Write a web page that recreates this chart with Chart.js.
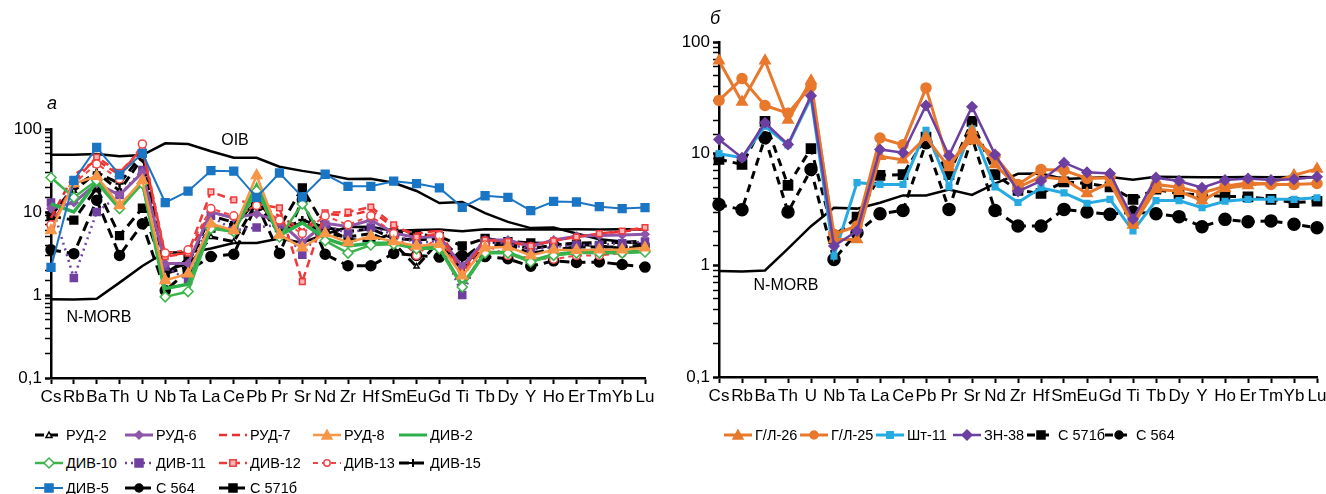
<!DOCTYPE html>
<html><head><meta charset="utf-8">
<script src="https://cdn.jsdelivr.net/npm/chart.js@4.4.1/dist/chart.umd.min.js"></script>
<style>
body{margin:0;background:#fff;width:1326px;height:494px;position:relative;overflow:hidden;font-family:"Liberation Sans",Arial,sans-serif;color:#000}
.wrap{position:absolute;top:0}
.note{position:absolute;font-size:16px;white-space:nowrap;transform:translate(-50%,-50%)}
.it{position:absolute;display:flex;align-items:center;white-space:nowrap;font-size:14.5px;transform:translateY(-50%)}
.it svg{margin-right:3px}
</style></head><body>
<div class="wrap" style="left:0;width:660px;height:410px"><canvas id="cA" width="660" height="410"></canvas></div>
<div class="wrap" style="left:660px;width:666px;height:410px"><canvas id="cB" width="666" height="410"></canvas></div>
<div class="note" style="left:52px;top:103px;font-style:italic;font-size:18px">а</div>
<div class="note" style="left:715px;top:18px;font-style:italic;font-size:18px">б</div>
<div class="note" style="left:235px;top:140px">OIB</div>
<div class="note" style="left:99px;top:317px">N-MORB</div>
<div class="note" style="left:786px;top:285px">N-MORB</div>
<div id="legA"></div><div id="legB"></div>
<script>
// ---- data ----
const elements = ['Cs','Rb','Ba','Th','U','Nb','Ta','La','Ce','Pb','Pr','Sr','Nd','Zr','Hf','Sm','Eu','Gd','Ti','Tb','Dy','Y','Ho','Er','Tm','Yb','Lu'];
const yTickValues = [0.1, 1, 10, 100];
const yTickLabels = ['0,1', '1', '10', '100'];

const oib   = [49,48.8,50,47,48.6,67.3,65.9,53.9,45,45,35.1,31.3,28.4,25,25.2,22.5,17.9,12.8,13.2,9.7,7.6,6.4,6.5,5.5,4.7,4.4,4.05];
const nmorb = [0.89,0.88,0.9,1.41,2.24,3.27,3.22,3.64,4.23,4.23,4.78,4.27,5.39,6.6,6.63,5.92,6.07,6.17,5.85,6.2,6.17,6.15,6.16,6.19,6.16,6.19,6.15];

const rud2  = [10,18,30,18,45,1.8,2.2,5.0,4.4,13,5.5,7.5,5.5,5.0,5.5,4.2,2.2,4.5,2.0,4.0,4.0,3.2,3.5,3.8,3.8,3.8,4.0];
const rud6  = [11,13,22,16,30,2.4,2.4,10,8.5,9.5,7.6,4.3,7.3,6.7,8.0,5.6,4.9,5.1,2.2,4.6,4.6,3.85,4.6,5.1,5.2,5.3,5.4];
const rud7  = [8.5,28,42,28,60,3.0,3.2,10,8.5,12,9,6,9.5,9,10.5,6.5,5.5,6.0,2.0,4.5,4.5,4.0,4.5,5.0,5.5,5.8,6.3];
const rud8  = [6,22,27,12,24,1.5,1.8,7.2,6,27.5,5.3,3.7,5.5,4.3,5.1,4.4,3.9,4.1,1.7,3.7,3.8,3.0,3.5,3.45,3.5,3.5,3.7];
const div2  = [12.5,10,23,11,23,1.2,1.35,6.7,5.8,21,5.2,7.4,4.8,3.9,4.2,4.2,3.7,3.7,1.3,3.25,3.25,2.55,3.05,3.3,3.25,3.25,3.4];
const div10 = [26,15,24,11,22,0.95,1.1,6.3,5.8,18,5.0,12.5,4.5,3.2,4.0,4.1,3.6,3.6,1.25,3.2,3.2,2.5,3.0,3.2,3.2,3.2,3.3];
const div11 = [13,1.6,10,16,32,2.2,1.5,9,6,6.5,7.0,3.05,7.0,5.5,6.5,5.4,4.2,4.5,1.0,4.2,4.2,3.5,3.8,4.0,4.0,4.2,4.4];
const div12 = [6.5,23,46,30,58,2.9,3.2,17.5,14,12.5,11.2,1.45,9.8,10,11.5,7.0,5.0,5.5,1.8,4.6,4.4,3.9,4.5,5.0,5.5,5.9,6.5];
const div13 = [7,22,38,25,66,3.2,3.5,11,9,12,8,5.5,9,7,9,5.5,3.0,5.2,1.6,4.0,3.0,2.8,2.7,3.0,3.0,3.2,3.4];
const div15 = [9,20,30,22,50,2.0,2.4,9,7.5,13,6,8,6.5,5.8,6.3,4.8,4.6,4.8,2.7,4.4,4.2,3.6,4.0,4.2,4.3,4.3,4.5];
const div5  = [2.15,24,60,28,51,13,17.8,31.5,31,15,29.5,15.2,28.5,20.4,20.4,23.5,22,19.5,11.4,15.7,15,10.4,13.4,13.2,11.6,11,11.3];
const c564  = [3.5,3.15,13.9,3.0,7.2,1.13,1.96,2.9,3.1,12.5,3.17,14,3.1,2.25,2.25,3.17,3.0,2.86,3.0,2.9,2.73,2.22,2.58,2.46,2.5,2.33,2.17];
const c571b = [8.9,8.0,19.5,5.2,11.1,1.83,2.7,6.4,6.5,14.1,6.5,19.5,6.5,4.7,4.4,5.6,5.4,5.05,3.9,4.8,4.4,4.25,4.15,4.1,3.9,3.65,3.75];

const gl26  = [68,29,68,20,45,1.7,1.7,9.5,8.8,14,7.5,16,8,5.0,6.2,5.9,4.4,5.5,2.3,4.8,4.6,3.8,4.9,5.2,5.5,6.4,7.3];
const gl25  = [30,47,27,23,40,1.9,2.25,13.8,12,38.8,8,13.5,9.5,5.3,7.2,7.1,6.0,6.1,2.4,5.3,5.0,4.45,5.1,5.5,5.3,5.3,5.4];
const sht11 = [10,9.2,17.6,12,31.6,1.21,5.5,5.3,5.3,16.2,5.05,16.7,5.05,3.65,4.95,4.45,3.6,3.9,2.03,3.8,3.8,3.28,3.75,3.9,3.9,3.9,4.03];
const zn38  = [13.4,9.2,18.9,12.1,33,1.49,2.03,10.9,10.2,27,9.6,26.3,9.8,4.6,5.7,8.3,6.8,6.65,2.6,6.1,5.7,4.95,5.8,6.0,5.8,5.9,6.2];

// ---- styles ----
const FONT = '"Liberation Sans", Arial, sans-serif';
const S = {
  ref:   {color:'#000', width:2.5, point:false},
  rud2:  {color:'#000', width:3, dash:[9,5], point:'triangle', r:3, fill:'#fff'},
  rud6:  {color:'#8E55A8', width:3, point:'rectRot', r:4, fill:'#8E55A8'},
  rud7:  {color:'#EE2E2E', width:2.5, dash:[8,5], point:false},
  rud8:  {color:'#F79646', width:2.5, point:'triangle', r:6, fill:'#F79646'},
  div2:  {color:'#2EAF4B', width:3.5, point:false},
  div10: {color:'#3CB44B', width:2.5, point:'rectRot', r:5, fill:'#fff'},
  div11: {color:'#7040A0', width:2.5, dash:[2,4], point:'rect', r:5, fill:'#7040A0'},
  div12: {color:'#EE3A3A', width:2.5, dash:[8,5], point:'rect', r:4, fill:'#F7B5B5'},
  div13: {color:'#F04646', width:2, dash:[5,4], point:'circle', r:4, fill:'#fff'},
  div15: {color:'#000', width:3, dash:[10,5], point:'cross', r:4, fill:'#000'},
  div5:  {color:'#1A75C4', width:2, point:'rect', r:5.5, fill:'#1A75C4'},
  c564:  {color:'#000', width:3, dash:[10,6], point:'circle', r:5, fill:'#000'},
  c571b: {color:'#000', width:3, dash:[10,6], point:'rect', r:5.5, fill:'#000'},
  gl26:  {color:'#E8782C', width:3, point:'triangle', r:6, fill:'#E8782C'},
  gl25:  {color:'#E8782C', width:3, point:'circle', r:5, fill:'#E8782C'},
  sht11: {color:'#27AAE1', width:3, point:'rect', r:4, fill:'#27AAE1'},
  zn38:  {color:'#6C3FA0', width:2.5, point:'rectRot', r:5, fill:'#6C3FA0'},
  c564b: {color:'#000', width:3, dash:[8,6], point:'circle', r:6, fill:'#000'},
  c571bb:{color:'#000', width:3, dash:[8,6], point:'rect', r:6.5, fill:'#000'}
};

function ds(label, data, st, order){
  return {
    label, data, order,
    borderColor: st.color, borderWidth: st.width, borderDash: st.dash || [],
    backgroundColor: st.fill || st.color,
    pointStyle: st.point || 'circle',
    pointRadius: st.point ? st.r : 0,
    pointBorderColor: st.color, pointBackgroundColor: st.fill || st.color,
    pointBorderWidth: st.point === 'cross' ? 2.5 : 1.5,
    tension: 0, clip: false, fill: false
  };
}

const isMajor = v => Math.abs(Math.log10(v) - Math.round(Math.log10(v))) < 1e-6;

function makeOptions(pad, yW){
  return {
    responsive:false, animation:false, events:[],
    layout:{padding:pad},
    plugins:{legend:{display:false}, tooltip:{enabled:false}},
    scales:{
      x:{type:'category', labels:elements, offset:false,
         border:{display:true, color:'#000', width:2.5},
         grid:{display:true, drawOnChartArea:false, drawTicks:true, tickLength:6, tickColor:'#000', tickWidth:2},
         ticks:{color:'#000', font:{family:FONT, size:17}, padding:3, autoSkip:false, maxRotation:0, minRotation:0},
         afterFit:s=>{s.height=30; s.paddingLeft=0; s.paddingRight=0;}},
      y:{type:'logarithmic', min:0.1, max:100,
         border:{display:true, color:'#000', width:2.5},
         grid:{display:true, drawOnChartArea:false, drawTicks:true, tickLength:6, tickColor:'#000',
               tickWidth:c=> (c.tick && isMajor(c.tick.value)) ? 2.5 : 1.5},
         ticks:{color:'#000', font:{family:FONT, size:17}, padding:3, autoSkip:false,
                callback:v=>{ const i = yTickValues.findIndex(t=>Math.abs(t-v)<1e-9); return i>=0 ? yTickLabels[i] : ''; }},
         afterFit:s=>{s.width=yW; s.paddingTop=0; s.paddingBottom=0;}}
    }
  };
}

// left panel
const leftSeries = [
  ['РУД-2', rud2, S.rud2, 9], ['РУД-6', rud6, S.rud6, 6], ['РУД-7', rud7, S.rud7, 7],
  ['РУД-8', rud8, S.rud8, 1], ['ДИВ-2', div2, S.div2, 3], ['ДИВ-10', div10, S.div10, 2],
  ['ДИВ-11', div11, S.div11, 8], ['ДИВ-12', div12, S.div12, 5], ['ДИВ-13', div13, S.div13, 4],
  ['ДИВ-15', div15, S.div15, 10], ['ДИВ-5', div5, S.div5, 0], ['С 564', c564, S.c564, 11],
  ['С 571б', c571b, S.c571b, 12]
];
const dsA = leftSeries.map(s=>ds(s[0], s[1], s[2], s[3]));
dsA.push(ds('OIB', oib, S.ref, 20));
dsA.push(ds('N-MORB', nmorb, S.ref, 21));
new Chart(document.getElementById('cA'), {type:'line', data:{labels:elements, datasets:dsA},
  options: makeOptions({left:0, top:129, right:15, bottom:2}, 51)});

// right panel
const rightSeries = [
  ['Г/Л-26', gl26, S.gl26, 1], ['Г/Л-25', gl25, S.gl25, 2], ['Шт-11', sht11, S.sht11, 3],
  ['ЗН-38', zn38, S.zn38, 0], ['С 571б', c571b, S.c571bb, 4], ['С 564', c564, S.c564b, 5]
];
const dsB = rightSeries.map(s=>ds(s[0], s[1], s[2], s[3]));
dsB.push(ds('N-MORB', nmorb, S.ref, 20));
new Chart(document.getElementById('cB'), {type:'line', data:{labels:elements, datasets:dsB},
  options: makeOptions({left:0, top:42, right:9, bottom:3}, 59)});

// ---- html legends ----
function sample(st, w){
  const h = 14, y = h/2, c = st.color;
  const dash = st.dash ? `stroke-dasharray="${st.dash.join(',')}"` : '';
  let m = '';
  const cx = w/2, r = st.r ? Math.min(st.r, 5) : 0, f = st.fill || c;
  if (st.point === 'triangle') m = `<polygon points="${cx},${y-r} ${cx+r},${y+r*0.8} ${cx-r},${y+r*0.8}" fill="${f}" stroke="${c}" stroke-width="1.5"/>`;
  else if (st.point === 'rect') m = `<rect x="${cx-r*0.8}" y="${y-r*0.8}" width="${r*1.6}" height="${r*1.6}" fill="${f}" stroke="${c}" stroke-width="1.5"/>`;
  else if (st.point === 'rectRot') m = `<polygon points="${cx},${y-r} ${cx+r},${y} ${cx},${y+r} ${cx-r},${y}" fill="${f}" stroke="${c}" stroke-width="1.5"/>`;
  else if (st.point === 'circle') m = `<circle cx="${cx}" cy="${y}" r="${r*0.8}" fill="${f}" stroke="${c}" stroke-width="1.5"/>`;
  else if (st.point === 'cross') m = `<path d="M${cx-r} ${y}H${cx+r}M${cx} ${y-r}V${y+r}" stroke="${c}" stroke-width="2"/>`;
  return `<svg width="${w}" height="${h}"><line x1="0" y1="${y}" x2="${w}" y2="${y}" stroke="${c}" stroke-width="${Math.min(st.width,3)}" ${dash}/>${m}</svg>`;
}
const legA = document.getElementById('legA');
const colX = [35, 125, 219, 313, 399];
const rowY = [435, 463, 488];
leftSeries.forEach((s, i)=>{
  const d = document.createElement('div');
  d.className = 'it';
  d.style.left = colX[i % 5] + 'px';
  d.style.top = rowY[Math.floor(i / 5)] + 'px';
  d.innerHTML = sample(s[2], 28) + '<span>' + s[0] + '</span>';
  legA.appendChild(d);
});
const legB = document.getElementById('legB');
const legBX = [724, 800, 876, 953, 1027, 1105];
rightSeries.forEach((s, i)=>{
  const d = document.createElement('div');
  d.className = 'it';
  d.style.left = legBX[i] + 'px';
  d.style.top = '435px';
  d.innerHTML = sample(s[2], 28) + '<span>' + s[0] + '</span>';
  legB.appendChild(d);
});
</script>
</body></html>
